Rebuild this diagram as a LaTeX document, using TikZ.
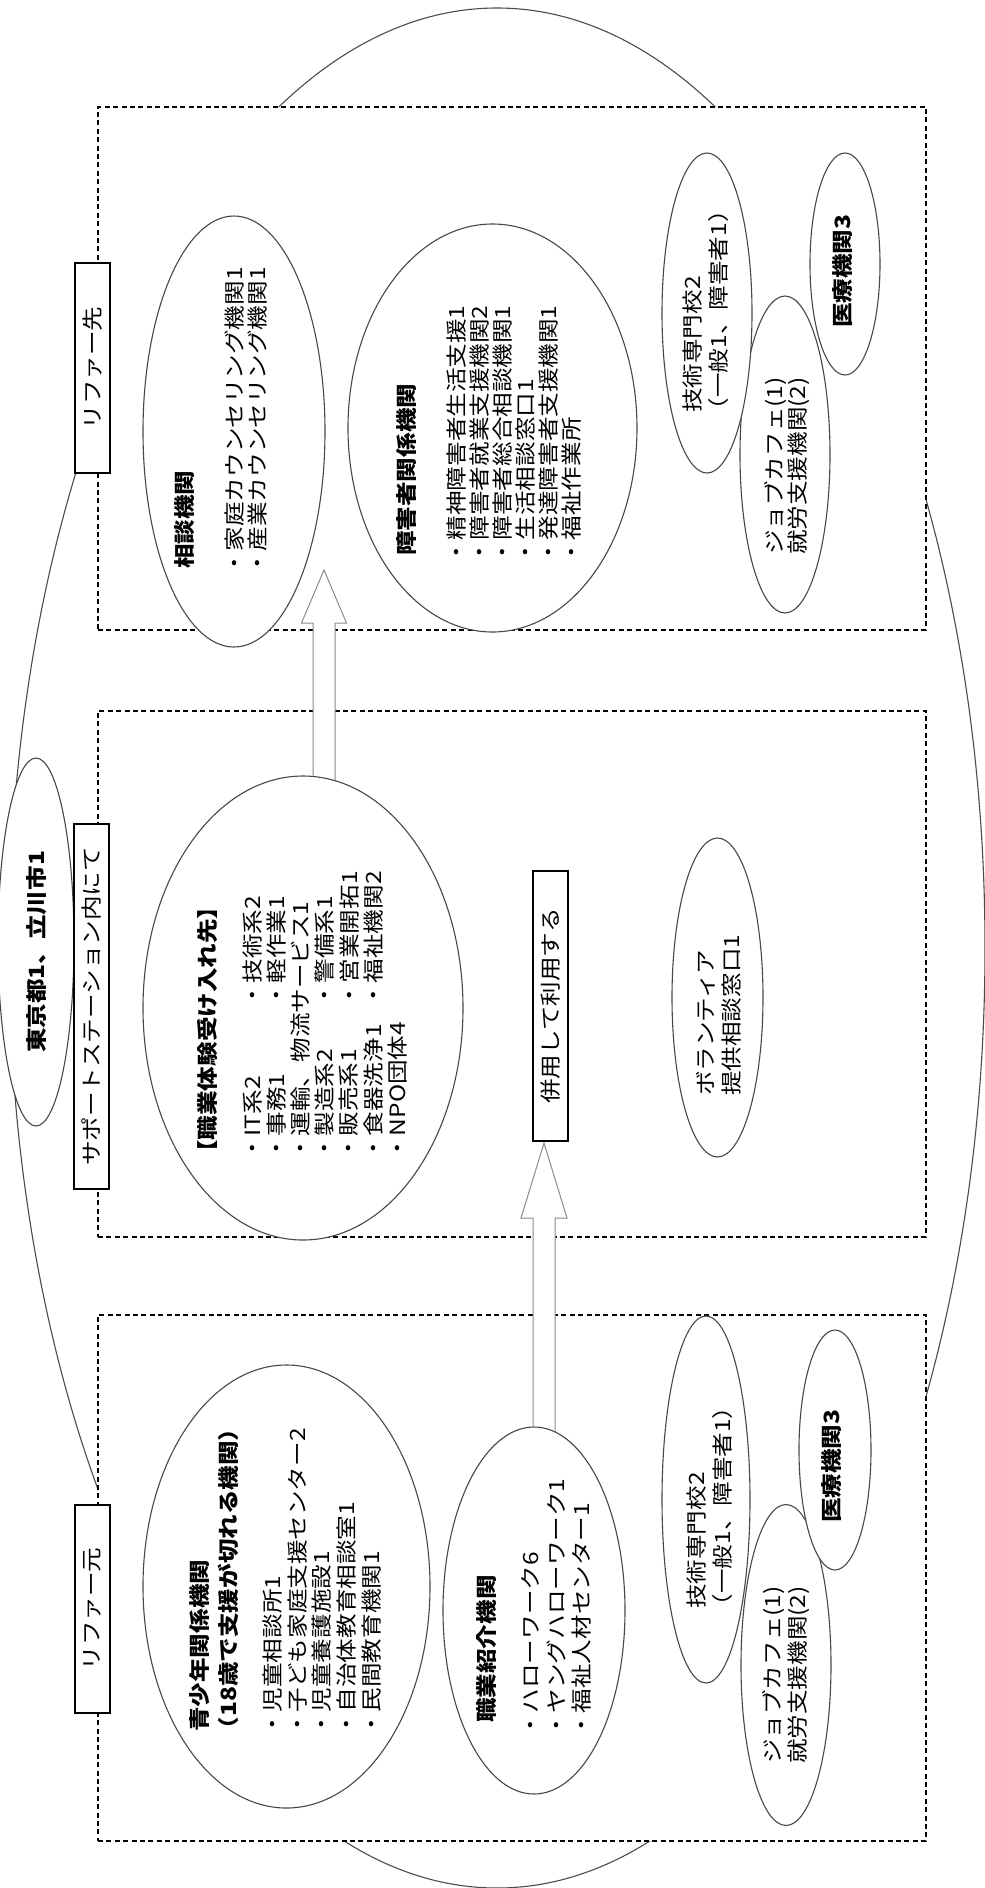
\documentclass[tikz,border=0pt]{standalone}
\usepackage{fontspec}
\newfontfamily\jp[FakeStretch=1.17]{Noto Sans CJK JP}
\usetikzlibrary{shapes.geometric}
\begin{document}
\begin{tikzpicture}[x=1pt,y=-1pt,
  zone/.style={draw=black, line width=1.6pt, dash pattern=on 5pt off 3.4pt, fill=white, inner sep=0pt, minimum width=828pt},
  lbl/.style={draw=black, line width=1.3pt, fill=white, rotate=90, inner sep=0pt, minimum height=35pt, font=\jp\fontsize{21}{24}\selectfont},
  org/.style={ellipse, draw=black!72, line width=1.1pt, fill=white, inner sep=0pt},
  txt/.style={rotate=90, anchor=north west, inner sep=0pt, align=left, font=\jp\fontsize{21}{#1}\selectfont},
  txt/.default=24.5,
  ttl/.style={txt=#1, font=\jp\bfseries\fontsize{21}{#1}\selectfont},
  ttl/.default=24.5,
  blockarrow/.style={draw=black!45, line width=1pt, fill=white}]
\useasboundingbox (0,0) rectangle (985,1888);
\fill[white] (0,0) rectangle (985,1888);

% outer ellipse
\node[org, draw=black!70, minimum width=976pt, minimum height=1880pt] (outer) at (497,948) {};

% zones
\node[zone, minimum height=523pt] (zsaki) at (512,368.5) {};
\node[zone, minimum height=526pt] (zst) at (512,974) {};
\node[zone, minimum height=526pt] (zmoto) at (512,1578) {};

% block arrows
\coordinate (a1tail) at (324,795);
\coordinate (a1base) at (324,623);
\coordinate (a1tip) at (324,570);
\filldraw[blockarrow] ([xshift=-11pt]a1tail) -- ([xshift=-11pt]a1base) -- ([xshift=-22.5pt]a1base) -- (a1tip) -- ([xshift=22.5pt]a1base) -- ([xshift=11pt]a1base) -- ([xshift=11pt]a1tail) -- cycle;
\coordinate (a2tail) at (544,1445);
\coordinate (a2base) at (544,1218);
\coordinate (a2tip) at (544,1143);
\filldraw[blockarrow] ([xshift=-11pt]a2tail) -- ([xshift=-11pt]a2base) -- ([xshift=-23pt]a2base) -- (a2tip) -- ([xshift=23pt]a2base) -- ([xshift=11pt]a2base) -- ([xshift=11pt]a2tail) -- cycle;

% ellipses: referral destinations
\node[org, minimum width=182pt, minimum height=431pt] (soudan) at (234,431.5) {};
\node[org, minimum width=289pt, minimum height=408pt] (shogai) at (492.5,428) {};
\node[org, minimum width=90pt, minimum height=317pt] (jobA) at (785,454.5) {};
\node[org, minimum width=90pt, minimum height=320pt] (gijutsuA) at (707,313) {};
\node[org, minimum width=70pt, minimum height=222pt] (iryoA) at (845,264) {};

% ellipses: support station
\node[org, minimum width=76pt, minimum height=368pt] (tokyo) at (36,942) {};
\node[org, minimum width=320pt, minimum height=464pt] (taiken) at (303,1008) {};
\node[org, minimum width=91pt, minimum height=319pt] (volun) at (717.5,997.5) {};

% ellipses: referral sources
\node[org, minimum width=287pt, minimum height=443pt] (seishonen) at (286.5,1586.5) {};
\node[org, minimum width=182pt, minimum height=367pt] (shokai) at (534,1610.5) {};
\node[org, minimum width=90pt, minimum height=321pt] (jobB) at (786,1665) {};
\node[org, minimum width=88pt, minimum height=367pt] (gijutsuB) at (706,1499.5) {};
\node[org, minimum width=72pt, minimum height=240pt] (iryoB) at (835,1450) {};

% texts
\node[ttl] (soudanT) at (174.5,569) {相談機関};
\node[txt=23.5] (soudanL) at (224.5,576) {・家庭カウンセリング機関1\\・産業カウンセリング機関1};
\node[ttl] (shogaiT) at (396.5,556) {障害者関係機関};
\node[txt=23] (shogaiL) at (446.5,565) {・精神障害者生活支援1\\・障害者就業支援機関2\\・障害者総合相談機関1\\・生活相談窓口1\\・発達障害者支援機関1\\・福祉作業所};
\node[txt=26] (gijutsuAT) at (682.5,413) {技術専門校2\\\hspace{-0.45em}（一般1、障害者1）};
\node[txt=23] (jobAT) at (764.5,555) {ジョブカフェ(1)\\就労支援機関(2)};
\node[ttl] (iryoAT) at (832.5,328) {医療機関3};

\node[ttl] (tokyoT) at (26.5,1053) {東京都1、立川市1};
\node[ttl] (taikenT) at (197.5,1165) {【職業体験受け入れ先】};
\node[txt=24.2] (taikenL) at (242.5,1161) {・IT系2\\・事務1\\・運輸、物流サービス1\\・製造系2\\・販売系1\\・食器洗浄1\\・NPO団体4};
\node[txt=24.2] (taikenR) at (242.5,1008) {・技術系2\\・軽作業1\\\mbox{}\\・警備系1\\・営業開拓1\\・福祉機関2};
\node[txt=26] (volunT) at (696.5,1096) {ボランティア\\提供相談窓口1};

\node[ttl=29] (seishonenT) at (189.5,1732) {青少年関係機関\\\hspace{-0.45em}（18歳で支援が切れる機関）};
\node[txt=24.75] (seishonenL) at (262.5,1737) {・児童相談所1\\・子ども家庭支援センター2\\・児童養護施設1\\・自治体教育相談室1\\・民間教育機関1};
\node[ttl] (shokaiT) at (476.5,1723) {職業紹介機関};
\node[txt=25.5] (shokaiL) at (521.5,1738) {・ハローワーク6\\・ヤングハローワーク1\\・福祉人材センター1};
\node[txt=26] (gijutsuBT) at (686.5,1609) {技術専門校2\\\hspace{-0.45em}（一般1、障害者1）};
\node[txt=25] (jobBT) at (762.5,1764) {ジョブカフェ(1)\\就労支援機関(2)};
\node[ttl] (iryoBT) at (821.5,1523) {医療機関3};

% label boxes
\node[lbl, minimum width=210pt] (saki) at (92.5,368) {リファー先};
\node[lbl, minimum width=365pt] (station) at (91.5,1006.5) {サポートステーション内にて};
\node[lbl, minimum width=208pt] (moto) at (92.5,1609) {リファー元};
\node[lbl, minimum width=270pt] (heiyo) at (550.5,1006) {併用して利用する};
\end{tikzpicture}
\end{document}
